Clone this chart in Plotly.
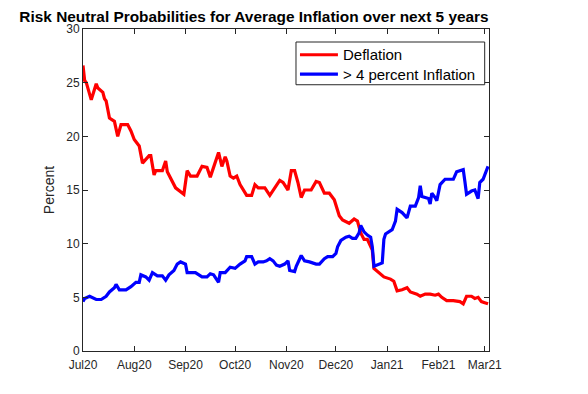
import plotly.graph_objects as go

# ---- data ----
deflation_dates = [
    "2020-07-01", "2020-07-02", "2020-07-03", "2020-07-06", "2020-07-09", "2020-07-10", "2020-07-13", "2020-07-14",
    "2020-07-15", "2020-07-17", "2020-07-20", "2020-07-22", "2020-07-24", "2020-07-28", "2020-07-30",
    "2020-08-01", "2020-08-04", "2020-08-06", "2020-08-10", "2020-08-11", "2020-08-13", "2020-08-14", "2020-08-18",
    "2020-08-20", "2020-08-21", "2020-08-26", "2020-08-31",
    "2020-09-02", "2020-09-04", "2020-09-08", "2020-09-11", "2020-09-14", "2020-09-16", "2020-09-18", "2020-09-21",
    "2020-09-23", "2020-09-25", "2020-09-26", "2020-09-28", "2020-09-30",
    "2020-10-02", "2020-10-04", "2020-10-06", "2020-10-08", "2020-10-11", "2020-10-13", "2020-10-15", "2020-10-19",
    "2020-10-22", "2020-10-25", "2020-10-28", "2020-10-30",
    "2020-11-02", "2020-11-04", "2020-11-06", "2020-11-08", "2020-11-10", "2020-11-12", "2020-11-16", "2020-11-19",
    "2020-11-21", "2020-11-24", "2020-11-27", "2020-11-30",
    "2020-12-03", "2020-12-05", "2020-12-09", "2020-12-12", "2020-12-14", "2020-12-16", "2020-12-18", "2020-12-20",
    "2020-12-23", "2020-12-24", "2020-12-27", "2020-12-30",
    "2021-01-03", "2021-01-05", "2021-01-07", "2021-01-10", "2021-01-13", "2021-01-15", "2021-01-19", "2021-01-21",
    "2021-01-24", "2021-01-27", "2021-01-30",
    "2021-02-01", "2021-02-03", "2021-02-06", "2021-02-10", "2021-02-14", "2021-02-16", "2021-02-18", "2021-02-21",
    "2021-02-23", "2021-02-25", "2021-02-27",
    "2021-03-01", "2021-03-03",
]
deflation_values = [
    26.6, 25.2, 25.0, 23.4, 24.9, 24.5, 24.1, 23.5, 23.3, 21.7, 21.4, 20.0, 21.1, 21.1, 20.5,
    19.7, 19.1, 17.5, 18.2, 18.2, 16.4, 16.8, 16.8, 17.7, 16.7, 15.2, 14.6,
    16.8, 16.3, 16.3, 17.2, 17.1, 16.2, 17.2, 18.5, 17.2, 18.1, 17.7, 16.3, 16.1,
    16.3, 15.5, 15.0, 14.5, 14.5, 15.5, 15.2, 15.2, 14.5, 15.2, 15.9, 15.7,
    15.0, 16.8, 16.8, 15.7, 14.3, 15.0, 15.0, 15.8, 15.7, 14.7, 14.7, 14.1,
    12.6, 12.2, 11.9, 12.3, 12.1, 11.0, 10.4, 10.4, 9.4, 7.7, 7.3, 6.9,
    6.7, 6.5, 5.6, 5.7, 5.9, 5.5, 5.3, 5.1, 5.3, 5.3, 5.2,
    5.3, 5.0, 4.7, 4.7, 4.6, 4.4, 5.1, 5.1, 4.9, 5.0, 4.6,
    4.5, 4.4,
]

inflation_dates = [
    "2020-07-01", "2020-07-02", "2020-07-05", "2020-07-09", "2020-07-12", "2020-07-15", "2020-07-17", "2020-07-20",
    "2020-07-21", "2020-07-23", "2020-07-27", "2020-07-30",
    "2020-08-02", "2020-08-04", "2020-08-05", "2020-08-08", "2020-08-10", "2020-08-12", "2020-08-15", "2020-08-18",
    "2020-08-20", "2020-08-22", "2020-08-25", "2020-08-27", "2020-08-29",
    "2020-09-01", "2020-09-02", "2020-09-04", "2020-09-07", "2020-09-11", "2020-09-14", "2020-09-16", "2020-09-18",
    "2020-09-21", "2020-09-22", "2020-09-25", "2020-09-28",
    "2020-10-01", "2020-10-04", "2020-10-07", "2020-10-08", "2020-10-11", "2020-10-13", "2020-10-15", "2020-10-18",
    "2020-10-20", "2020-10-22", "2020-10-24", "2020-10-26", "2020-10-28", "2020-10-31",
    "2020-11-02", "2020-11-03", "2020-11-06", "2020-11-07", "2020-11-10", "2020-11-12", "2020-11-15", "2020-11-19",
    "2020-11-21", "2020-11-24", "2020-11-26", "2020-11-29",
    "2020-12-01", "2020-12-02", "2020-12-04", "2020-12-07", "2020-12-09", "2020-12-11", "2020-12-13", "2020-12-15",
    "2020-12-16", "2020-12-18", "2020-12-20", "2020-12-22", "2020-12-23", "2020-12-24", "2020-12-29", "2020-12-30",
    "2020-12-31",
    "2021-01-04", "2021-01-06", "2021-01-07", "2021-01-10", "2021-01-13", "2021-01-15", "2021-01-18", "2021-01-20",
    "2021-01-21", "2021-01-22", "2021-01-26", "2021-01-27", "2021-01-28", "2021-01-30", "2021-01-31",
    "2021-02-02", "2021-02-05", "2021-02-08", "2021-02-10", "2021-02-12", "2021-02-15", "2021-02-16", "2021-02-17",
    "2021-02-18", "2021-02-21", "2021-02-23", "2021-02-25", "2021-02-26", "2021-02-28",
    "2021-03-02", "2021-03-03",
]
inflation_values = [
    4.6, 4.9, 5.1, 4.8, 4.8, 5.1, 5.5, 5.9, 6.2, 5.7, 5.7, 6.0,
    6.4, 6.4, 7.1, 6.9, 6.6, 7.3, 7.0, 7.0, 6.6, 7.1, 7.5, 8.1, 8.3,
    8.1, 7.3, 7.3, 7.3, 6.9, 6.9, 7.2, 7.1, 6.4, 7.3, 7.3, 7.8,
    7.7, 8.1, 8.4, 8.8, 8.8, 8.1, 8.3, 8.3, 8.4, 8.6, 8.4, 8.0, 7.9, 8.1,
    8.4, 7.5, 7.4, 7.9, 8.9, 8.4, 8.3, 8.1, 8.1, 8.6, 8.8, 8.8,
    9.1, 9.7, 10.3, 10.6, 10.7, 10.5, 10.5, 11.0, 11.7, 11.1, 10.8, 10.6, 9.7, 7.9, 8.2, 10.4, 10.9,
    11.3, 12.1, 13.2, 12.9, 12.4, 13.5, 13.5, 14.3, 15.4, 14.4, 14.2, 13.7, 14.7, 14.3, 14.0,
    15.5, 16.0, 16.0, 16.0, 16.7, 16.8, 16.9, 15.8, 14.6, 14.9, 15.0, 14.2, 15.7, 16.0,
    16.9, 17.2,
]

series_names = ["Deflation", "> 4 percent Inflation"]
series_colors = ["#ff0000", "#0000ff"]

tick_dates = ["2020-07-01", "2020-08-01", "2020-09-01", "2020-10-01", "2020-11-01",
              "2020-12-01", "2021-01-01", "2021-02-01", "2021-03-01"]
tick_labels = ["Jul20", "Aug20", "Sep20", "Oct20", "Nov20", "Dec20", "Jan21", "Feb21", "Mar21"]
y_ticks = [0, 5, 10, 15, 20, 25, 30]

FONT = "Arial, Liberation Sans, sans-serif"
AX = "#262626"

fig = go.Figure()
fig.add_trace(go.Scatter(x=deflation_dates, y=deflation_values, mode="lines",
                         name=series_names[0], line=dict(color=series_colors[0], width=3.2)))
fig.add_trace(go.Scatter(x=inflation_dates, y=inflation_values, mode="lines",
                         name=series_names[1], line=dict(color=series_colors[1], width=3.2)))

# MATLAB-style legend box drawn in paper coordinates (upper right inside the axes)
box_x0, box_x1, box_y0, box_y1 = 0.5246, 0.9894, 0.8269, 0.9596
line_x0, line_x1, text_x = 0.5344, 0.6279, 0.6352
row_y = [0.9201, 0.8601]
shapes = [dict(type="rect", xref="paper", yref="paper", x0=box_x0, x1=box_x1, y0=box_y0, y1=box_y1,
               line=dict(color=AX, width=1), fillcolor="white", layer="above")]
annotations = []
for name, color, yy in zip(series_names, series_colors, row_y):
    shapes.append(dict(type="line", xref="paper", yref="paper", x0=line_x0, x1=line_x1, y0=yy, y1=yy,
                       line=dict(color=color, width=3.2), layer="above"))
    annotations.append(dict(text=name, xref="paper", yref="paper", x=text_x, y=yy,
                            xanchor="left", yanchor="middle", showarrow=False,
                            font=dict(family=FONT, size=15, color="black")))

# the page body adds an 8px offset, so margins are shifted by -8 px left/top
fig.update_layout(
    width=588, height=394,
    paper_bgcolor="white", plot_bgcolor="white",
    margin=dict(l=75, r=107, t=21, b=51, autoexpand=False),
    font=dict(family=FONT, color=AX, size=12),
    title=dict(text="<b>Risk Neutral Probabilities for Average Inflation over next 5 years</b>",
               x=246/588, xanchor="center", xref="container",
               y=1 - 9/394, yanchor="middle", yref="container",
               font=dict(family=FONT, size=15.4, color="black")),
    showlegend=False,
    shapes=shapes,
    annotations=annotations,
)
fig.update_xaxes(
    range=["2020-07-01", "2021-03-03 14:00"],
    tickmode="array", tickvals=tick_dates, ticktext=tick_labels,
    ticks="inside", ticklen=5, tickcolor=AX, ticklabelstandoff=3,
    showline=True, linecolor=AX, linewidth=1, mirror="allticks",
    showgrid=False, zeroline=False, automargin=False,
    tickfont=dict(family=FONT, size=12, color=AX),
)
fig.update_yaxes(
    range=[0, 30], tickvals=y_ticks,
    ticks="inside", ticklen=5, tickcolor=AX,
    showline=True, linecolor=AX, linewidth=1, mirror="allticks",
    showgrid=False, zeroline=False, automargin=False,
    tickfont=dict(family=FONT, size=12, color=AX),
    title=dict(text="Percent", font=dict(family=FONT, size=14, color=AX), standoff=8),
)

fig.write_html("out.html")
